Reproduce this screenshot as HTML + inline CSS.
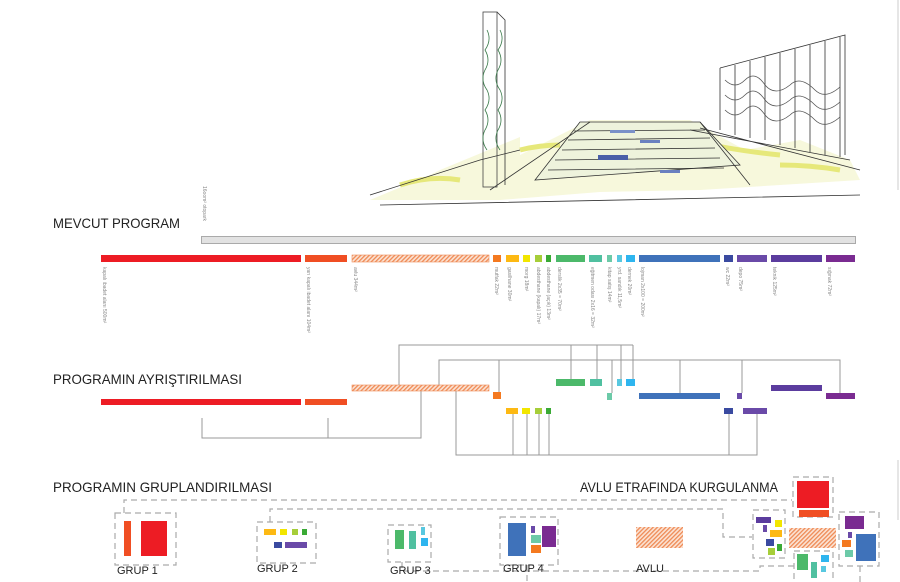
<!DOCTYPE html>
<html><head><meta charset="utf-8"><style>
body{margin:0;background:#fff;}
.w{position:relative;width:900px;height:582px;overflow:hidden;font-family:"Liberation Sans",sans-serif;}
svg{position:absolute;left:0;top:0;}
</style></head><body><div class="w">
<svg width="900" height="582" viewBox="0 0 900 582">
<defs>
<pattern id="h" width="3" height="3" patternUnits="userSpaceOnUse" patternTransform="rotate(45)">
<rect width="3" height="3" fill="#fbe3d4"/><rect width="1.3" height="3" fill="#ef8a55"/></pattern>
</defs>
<line x1="898" y1="0" x2="898" y2="190" stroke="#ccc" stroke-width="1"/>
<line x1="898" y1="460" x2="898" y2="520" stroke="#ccc" stroke-width="1"/>
<!-- sketch -->
<g fill="none" stroke="#333" stroke-width="0.8">
<path d="M440 170 L520 137 L520 155 L590 120 L690 120 L745 150 L800 140 L850 160 L860 180 L700 190 L600 192 L500 200 L370 200 L430 175" fill="#f7f8dc" stroke="none"/>
<path d="M400 185 q30 -10 60 -5 M690 140 q40 10 90 15 M520 150 q20 -5 40 -5 M780 165 q30 0 60 5" stroke="#e6e87a" stroke-width="5"/>
<path d="M580 122 L700 122 L740 165 L535 180 Z" fill="#eef3dc"/>
<path d="M548 170 L724 168 M555 160 L720 158 M562 150 L715 148 M568 140 L710 138 M574 131 L705 130"/>
<path d="M490 190 L590 122 M700 122 L750 185"/>
<path d="M370 195 L480 160 L520 150 M380 205 L860 195 M690 130 L850 160 M700 128 L860 170"/>
<rect x="483" y="12" width="14" height="175" stroke="#444"/>
<path d="M497 12 L505 20 L505 185" />
<path d="M487 30 q5 10 -2 20 q6 10 0 20 q-5 10 2 20 q5 10 -2 20 q6 10 0 20 q-5 10 2 20 M500 30 q5 10 -2 20 q6 10 0 20 q-5 10 2 20 q5 10 -2 20 q6 10 0 20 q-5 10 2 20" stroke="#3a7a4a"/>
<path d="M720 68 L845 35 L845 155 M720 68 L720 130 M735 65 L735 135 M750 61 L750 138 M765 57 L765 140 M780 53 L780 145 M795 49 L795 148 M810 45 L810 152 M825 41 L825 155 M840 37 L840 157"/>
<path d="M725 80 q10 10 20 0 q10 -10 20 5 q10 12 25 0 q10 -10 25 5 q10 10 25 -3 M725 110 q10 10 20 0 q10 -10 20 5 q10 12 25 0 q10 -10 25 5 q10 10 25 -3 M725 95 q10 10 20 0 q10 -10 20 5 q10 12 25 0 q10 -10 25 5 q10 10 25 -3" stroke="#555"/>
<rect x="598" y="155" width="30" height="5" fill="#4a5fa8" stroke="none"/>
<rect x="640" y="140" width="20" height="3" fill="#6a80c0" stroke="none"/>
<rect x="610" y="130" width="25" height="3" fill="#7a90c8" stroke="none"/>
<rect x="660" y="170" width="20" height="3" fill="#6a80c0" stroke="none"/>
</g>
<text x="53" y="228" font-size="14" fill="#222" textLength="127" lengthAdjust="spacingAndGlyphs">MEVCUT PROGRAM</text>
<rect x="201.5" y="236.5" width="654" height="7" fill="#e2e2e2" stroke="#aaa"/>
<text transform="translate(203,186) rotate(90)" font-size="5" fill="#888">16oom² otopark</text>
<g>
<rect x="101" y="255" width="200" height="7" fill="#ed1c24"/>
<rect x="305" y="255" width="42" height="7" fill="#f04e23"/>
<rect x="352" y="255" width="137" height="7" fill="url(#h)" stroke="#ef8a55" stroke-width="0.6"/>
<rect x="493" y="255" width="8" height="7" fill="#f47920"/>
<rect x="506" y="255" width="13" height="7" fill="#fdb913"/>
<rect x="523" y="255" width="7" height="7" fill="#f2e600"/>
<rect x="535" y="255" width="7" height="7" fill="#a6ce39"/>
<rect x="546" y="255" width="5" height="7" fill="#3aaa35"/>
<rect x="556" y="255" width="29" height="7" fill="#4cb96a"/>
<rect x="589" y="255" width="13" height="7" fill="#50c0a0"/>
<rect x="607" y="255" width="5" height="7" fill="#6ccaa8"/>
<rect x="617" y="255" width="5" height="7" fill="#58c8e0"/>
<rect x="626" y="255" width="9" height="7" fill="#2eb5ef"/>
<rect x="639" y="255" width="81" height="7" fill="#3f72ba"/>
<rect x="724" y="255" width="9" height="7" fill="#3a4aa0"/>
<rect x="737" y="255" width="30" height="7" fill="#6a4aa8"/>
<rect x="771" y="255" width="51" height="7" fill="#5b3c9e"/>
<rect x="826" y="255" width="29" height="7" fill="#7a2b91"/>
</g>
<g font-size="5" fill="#888">
<text transform="translate(103,267) rotate(90)">kapalı ibadet alanı   500m²</text>
<text transform="translate(307,267) rotate(90)">yarı kapalı ibadet alanı   104m²</text>
<text transform="translate(354,267) rotate(90)">avlu   344m²</text>
<text transform="translate(495,267) rotate(90)">mutfak   22m²</text>
<text transform="translate(508,267) rotate(90)">gasilhane   30m²</text>
<text transform="translate(525,267) rotate(90)">morg   18m²</text>
<text transform="translate(537,267) rotate(90)">abdesthane (kapalı)  17m²</text>
<text transform="translate(547,267) rotate(90)">abdesthane (açık)   13m²</text>
<text transform="translate(558,267) rotate(90)">derslik   2x35 = 70m²</text>
<text transform="translate(591,267) rotate(90)">eğitmen odası   2x16 = 32m²</text>
<text transform="translate(608,267) rotate(90)">kitap satış   14m²</text>
<text transform="translate(618,267) rotate(90)">yrd. sandık   11,5m²</text>
<text transform="translate(628,267) rotate(90)">dernek   20m²</text>
<text transform="translate(641,267) rotate(90)">lojman   2x100 = 200m²</text>
<text transform="translate(726,267) rotate(90)">wc   22m²</text>
<text transform="translate(739,267) rotate(90)">depo   75m²</text>
<text transform="translate(773,267) rotate(90)">teknik   125m²</text>
<text transform="translate(828,267) rotate(90)">sığınak   72m²</text>
</g>
<text x="53" y="384" font-size="14" fill="#222" textLength="189" lengthAdjust="spacingAndGlyphs">PROGRAMIN AYRIŞTIRILMASI</text>
<g stroke="#999" stroke-width="1" fill="none">
<path d="M399 385 V345 H633 M571 345 V379 M597 345 V379 M621 345 V379 M633 345 V379"/>
<path d="M439 385 V360 H840 V393 M499 360 V392 M612 360 V393 M680 360 V393 M742 360 V393"/>
<path d="M202 418 V438 H421 V391 M328 418 V438"/>
<path d="M456 391 V455 H757 V414 M513 414 V455 M527 414 V455 M539 414 V455 M549 414 V455 M729 414 V455"/>
</g>
<rect x="101" y="399" width="200" height="6" fill="#ed1c24"/>
<rect x="305" y="399" width="42" height="6" fill="#f04e23"/>
<rect x="352" y="385" width="137" height="6" fill="url(#h)" stroke="#ef8a55" stroke-width="0.6"/>
<rect x="493" y="392" width="8" height="7" fill="#f47920"/>
<rect x="506" y="408" width="12" height="6" fill="#fdb913"/>
<rect x="522" y="408" width="8" height="6" fill="#f2e600"/>
<rect x="535" y="408" width="7" height="6" fill="#a6ce39"/>
<rect x="546" y="408" width="5" height="6" fill="#3aaa35"/>
<rect x="556" y="379" width="29" height="7" fill="#4cb96a"/>
<rect x="590" y="379" width="12" height="7" fill="#50c0a0"/>
<rect x="607" y="393" width="5" height="7" fill="#6ccaa8"/>
<rect x="617" y="379" width="5" height="7" fill="#58c8e0"/>
<rect x="626" y="379" width="9" height="7" fill="#2eb5ef"/>
<rect x="639" y="393" width="81" height="6" fill="#3f72ba"/>
<rect x="737" y="393" width="5" height="6" fill="#6a4aa8"/>
<rect x="724" y="408" width="9" height="6" fill="#3a4aa0"/>
<rect x="743" y="408" width="24" height="6" fill="#6a4aa8"/>
<rect x="771" y="385" width="51" height="6" fill="#5b3c9e"/>
<rect x="826" y="393" width="29" height="6" fill="#7a2b91"/>
<text x="53" y="492" font-size="14" fill="#222" textLength="219" lengthAdjust="spacingAndGlyphs">PROGRAMIN GRUPLANDIRILMASI</text>
<text x="580" y="492" font-size="14" fill="#222" textLength="198" lengthAdjust="spacingAndGlyphs">AVLU ETRAFINDA KURGULANMA</text>
<g stroke="#aaa" stroke-width="1.2" fill="none" stroke-dasharray="6,4">
<path d="M124 513 V500 H792"/>
<path d="M270 522 V509 H723 V537 H752"/>
<path d="M402 562 V571 H760 V566 H794"/>
<path d="M527 565 V582"/>
<path d="M860 566 V582"/>
<rect x="115" y="513" width="61" height="52"/>
<rect x="257" y="522" width="59" height="41"/>
<rect x="388" y="525" width="43" height="37"/>
<rect x="500" y="517" width="58" height="48"/>
<rect x="793" y="477" width="40" height="40"/>
<rect x="753" y="510" width="32" height="48"/>
<rect x="839" y="512" width="40" height="54"/>
<rect x="794" y="551" width="39" height="35"/>
</g>
<rect x="124" y="521" width="7" height="35" fill="#f04e23"/>
<rect x="141" y="521" width="26" height="35" fill="#ed1c24"/>
<rect x="264" y="529" width="12" height="6" fill="#fdb913"/>
<rect x="280" y="529" width="7" height="6" fill="#f2e600"/>
<rect x="292" y="529" width="6" height="6" fill="#a6ce39"/>
<rect x="302" y="529" width="5" height="6" fill="#3aaa35"/>
<rect x="274" y="542" width="8" height="6" fill="#3a4aa0"/>
<rect x="285" y="542" width="22" height="6" fill="#6a4aa8"/>
<rect x="395" y="530" width="9" height="19" fill="#4cb96a"/>
<rect x="409" y="531" width="7" height="18" fill="#50c0a0"/>
<rect x="421" y="527" width="4" height="8" fill="#58c8e0"/>
<rect x="421" y="538" width="7" height="8" fill="#2eb5ef"/>
<rect x="508" y="523" width="18" height="33" fill="#3f72ba"/>
<rect x="531" y="526" width="4" height="7" fill="#6a4aa8"/>
<rect x="531" y="535" width="10" height="8" fill="#6ccaa8"/>
<rect x="531" y="545" width="10" height="8" fill="#f47920"/>
<rect x="542" y="526" width="14" height="21" fill="#7a2b91"/>
<rect x="636" y="527" width="47" height="21" fill="url(#h)"/>
<rect x="797" y="481" width="32" height="27" fill="#ed1c24"/>
<rect x="799" y="510" width="30" height="7" fill="#f04e23"/>
<rect x="789" y="528" width="47" height="20" fill="url(#h)"/>
<rect x="756" y="517" width="15" height="6" fill="#5b3c9e"/>
<rect x="775" y="520" width="7" height="7" fill="#f2e600"/>
<rect x="763" y="525" width="4" height="7" fill="#6a4aa8"/>
<rect x="770" y="530" width="12" height="7" fill="#fdb913"/>
<rect x="766" y="539" width="8" height="7" fill="#3a4aa0"/>
<rect x="768" y="548" width="7" height="7" fill="#a6ce39"/>
<rect x="777" y="544" width="5" height="7" fill="#3aaa35"/>
<rect x="797" y="554" width="11" height="16" fill="#4cb96a"/>
<rect x="811" y="562" width="6" height="16" fill="#50c0a0"/>
<rect x="821" y="555" width="8" height="7" fill="#2eb5ef"/>
<rect x="821" y="566" width="5" height="6" fill="#58c8e0"/>
<rect x="845" y="516" width="19" height="13" fill="#7a2b91"/>
<rect x="848" y="532" width="4" height="6" fill="#6a4aa8"/>
<rect x="842" y="540" width="9" height="7" fill="#f47920"/>
<rect x="845" y="550" width="8" height="7" fill="#6ccaa8"/>
<rect x="856" y="534" width="20" height="27" fill="#3f72ba"/>
<g font-size="11" fill="#222">
<text x="117" y="574">GRUP 1</text>
<text x="257" y="572">GRUP 2</text>
<text x="390" y="574">GRUP 3</text>
<text x="503" y="572">GRUP 4</text>
<text x="636" y="572">AVLU</text>
</g>
</svg>
</div></body></html>
